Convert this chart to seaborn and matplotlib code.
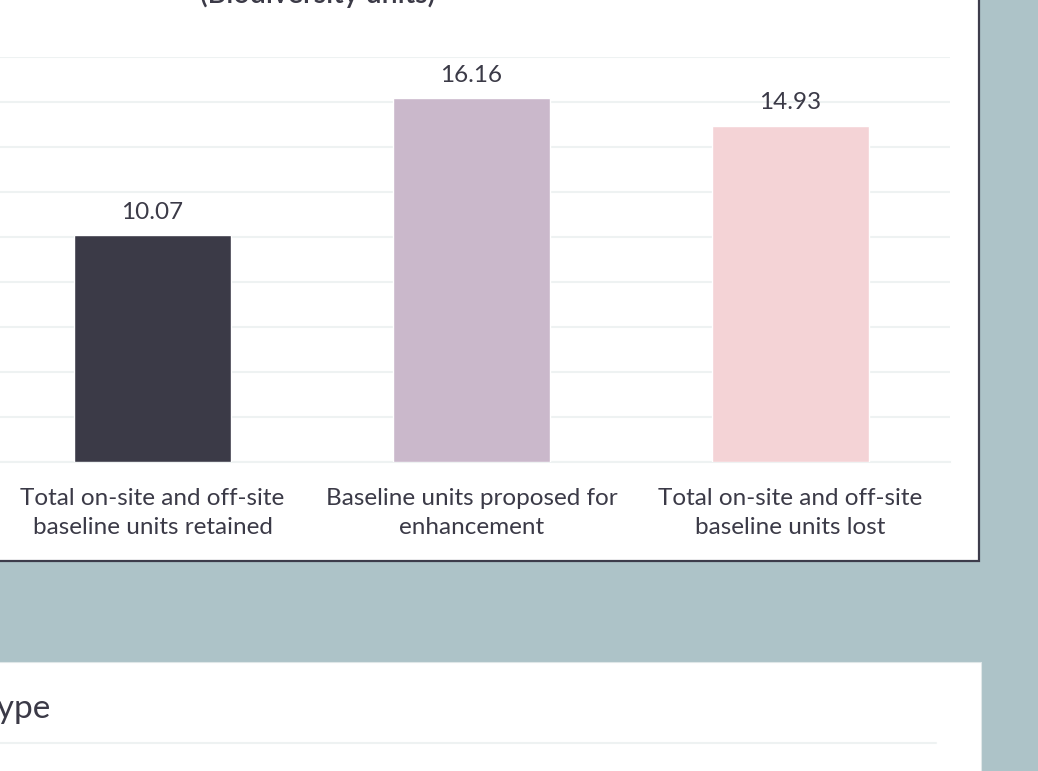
import matplotlib
matplotlib.use("Agg")
import matplotlib.pyplot as plt
import seaborn as sns
import pandas as pd
from matplotlib.patches import Rectangle
from matplotlib.lines import Line2D

# Chart data
CATEGORIES = [
    "Total on-site and off-site\nbaseline units retained",
    "Baseline units proposed for\nenhancement",
    "Total on-site and off-site\nbaseline units lost",
]
UNITS = [10.07, 16.16, 14.93]
BAR_COLORS = ["#3b3a47", "#cab8cb", "#f4d3d6"]
TITLE = "(Biodiversity units)"
SECOND_HEADER = "Type"

# Look
W, H = 1038, 771
PAGE_BG = "#adc3c8"
BORDER = "#3d3c4b"
TEXT = "#3b3a47"
GRID = "#eef2f2"
FONT = ["Lato", "DejaVu Sans"]


def fx(px):
    return px / W


def fy(px):
    return 1 - px / H


def draw_panels(fig):
    # top card with dark border, bottom card below it
    top = Rectangle((fx(-20), fy(561)), fx(999), fy(-20) - fy(561),
                    transform=fig.transFigure, facecolor="white",
                    edgecolor=BORDER, linewidth=1.6, zorder=0)
    bottom = Rectangle((fx(-20), fy(800)), fx(1001), fy(662) - fy(800),
                       transform=fig.transFigure, facecolor="white",
                       edgecolor="#dfe7e8", linewidth=0.8, zorder=0)
    fig.add_artist(top)
    fig.add_artist(bottom)
    fig.add_artist(Line2D([fx(-5), fx(936)], [fy(743), fy(743)],
                          transform=fig.transFigure, color=GRID, lw=1.5))


def plot_bars(fig):
    df = pd.DataFrame({"category": CATEGORIES, "units": UNITS})
    ax = fig.add_axes([fx(-7), fy(461.5), fx(957), (461.5 - 57) / H])
    ax.set_facecolor("none")
    sns.barplot(data=df, x="category", y="units", hue="category",
                palette=BAR_COLORS, width=0.49, legend=False, ax=ax,
                saturation=1, zorder=3)
    ax.set_xlim(-0.5, 2.5)
    ax.set_ylim(0, 18)
    ax.set_yticks(range(0, 19, 2))
    ax.yaxis.grid(True, color=GRID, lw=1.5, zorder=0)
    ax.set_axisbelow(True)
    ax.tick_params(axis="y", length=0, labelleft=False)
    ax.set_xticks([-0.5, 0.5, 1.5, 2.5], minor=True)
    ax.tick_params(axis="x", which="minor", length=6, width=1.2, color=GRID)
    ax.tick_params(axis="x", which="major", length=0, pad=19,
                   labelsize=17.5, labelcolor=TEXT)
    for lab in ax.get_xticklabels():
        lab.set_family(FONT)
        lab.set_linespacing(1.5)
    for side in ["top", "left", "right"]:
        ax.spines[side].set_visible(False)
    ax.spines["bottom"].set_color(GRID)
    ax.spines["bottom"].set_linewidth(1.5)
    ax.set_xlabel("")
    ax.set_ylabel("")
    for cont in ax.containers:
        ax.bar_label(cont, fmt="%.2f", padding=9, fontsize=17.5,
                     color=TEXT, family=FONT)
    return ax


def main():
    sns.set_theme(style="white")
    plt.rcParams["font.family"] = FONT
    fig = plt.figure(figsize=(W / 100, H / 100), dpi=100, facecolor=PAGE_BG)
    draw_panels(fig)
    plot_bars(fig)
    # title of the card, mostly above the visible area
    fig.text(fx(318), fy(3), TITLE, ha="center", va="baseline",
             fontsize=20.5, fontweight="semibold", color=TEXT, family=FONT)
    fig.text(fx(51), fy(718), SECOND_HEADER, ha="right", va="baseline",
             fontsize=24, color=TEXT, family=FONT)
    fig.savefig("out.png", dpi=100, facecolor=PAGE_BG)


if __name__ == "__main__":
    main()
